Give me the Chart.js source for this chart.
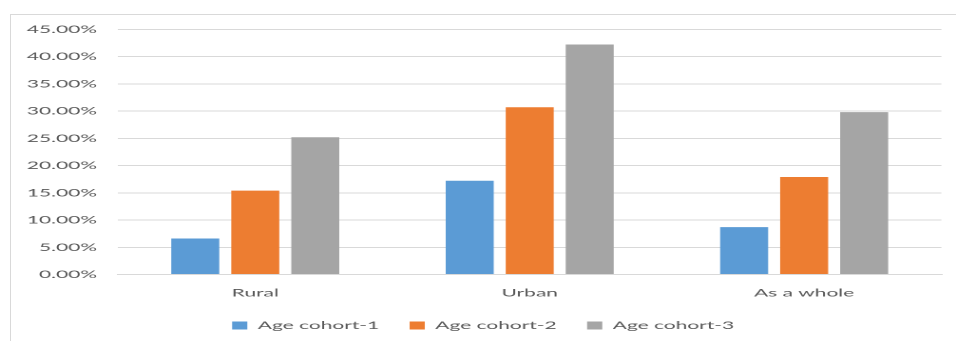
<!DOCTYPE html>
<html>
<head>
<meta charset="utf-8">
<script src="https://cdn.jsdelivr.net/npm/chart.js@4.4.1/dist/chart.umd.min.js"></script>
<style>
  html, body { margin: 0; padding: 0; background: #ffffff; }
  body { width: 956px; height: 341px; position: relative; overflow: hidden; }
  #frame { position: absolute; left: 10px; top: 14px; right: -2px; bottom: -2px;
           border-left: 1px solid #d9d9d9; border-top: 1px solid #d9d9d9; }
  #wrap { position: absolute; left: 0; top: 0; width: 503px; height: 341px;
          transform: scaleX(1.9006); transform-origin: 0 0; }
  #c { width: 503px; height: 341px; display: block; }
</style>
</head>
<body>
<div id="frame"></div>
<div id="wrap"><canvas id="c" width="503" height="341"></canvas></div>
<script>
const categories = ['Rural', 'Urban', 'As a whole'];
const seriesNames = ['Age cohort-1', 'Age cohort-2', 'Age cohort-3'];
const cohort1 = [6.6, 17.2, 8.7];
const cohort2 = [15.4, 30.7, 17.9];
const cohort3 = [25.2, 42.2, 29.8];
const yTickMax = 45;
const yTickStep = 5;

const colors = ['#5B9BD5', '#ED7D31', '#A5A5A5'];
const values = [cohort1, cohort2, cohort3];

new Chart(document.getElementById('c'), {
  type: 'bar',
  data: {
    labels: categories,
    datasets: seriesNames.map((name, i) => ({
      label: name,
      data: values[i],
      backgroundColor: colors[i],
      borderWidth: 0,
      categoryPercentage: 0.656,
      barPercentage: 0.8
    }))
  },
  options: {
    responsive: false,
    animation: false,
    devicePixelRatio: 2,
    layout: { padding: { left: 13.1, right: 7.7, top: 29.3, bottom: 0 } },
    plugins: {
      tooltip: { enabled: false },
      legend: {
        position: 'bottom',
        labels: {
          boxWidth: 8, boxHeight: 8, padding: 16,
          color: '#595959',
          font: { family: 'Lato', size: 11 }
        }
      }
    },
    scales: {
      x: {
        grid: { display: false, drawTicks: false },
        border: { display: true, color: '#d9d9d9', width: 1 },
        ticks: { color: '#595959', padding: 12, font: { family: 'Lato', size: 11 } },
        afterFit: (s) => { s.height = 29.5; }
      },
      y: {
        min: 0, max: yTickMax,
        grid: { color: '#d9d9d9', lineWidth: 1, drawTicks: false },
        border: { display: false },
        ticks: {
          stepSize: yTickStep,
          color: '#595959', padding: 11,
          font: { family: 'Lato', size: 11 },
          callback: (v) => Number(v).toFixed(2) + '%'
        },
        afterFit: (s) => { s.width = 49; }
      }
    }
  }
});
</script>
</body>
</html>
